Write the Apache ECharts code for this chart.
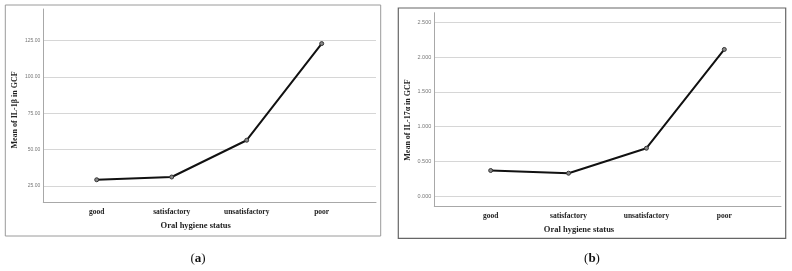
<!DOCTYPE html>
<html><head><meta charset="utf-8">
<script src="https://cdn.jsdelivr.net/npm/echarts@6/dist/echarts.min.js"></script>
<style>html,body{margin:0;padding:0;background:#fff}#c{width:792px;height:271px}</style>
</head><body><div id="c"></div>
<script>
const categories = ['good', 'satisfactory', 'unsatisfactory', 'poor'];
const il1bValues = [29.3, 31.2, 56.5, 123.0];
const il17Values = [0.371, 0.332, 0.691, 2.11];
const ticksA = [25, 50, 75, 100, 125];
const ticksB = [0, 0.5, 1.0, 1.5, 2.0, 2.5];
const xTitle = 'Oral hygiene status';
const yTitleA = 'Mean of IL-1β in GCF';
const yTitleB = 'Mean of IL-17α in GCF';
const captionLetters = ['a', 'b'];

const serif = '"Liberation Serif", "DejaVu Serif", serif';
const sans = '"Liberation Sans", Arial, sans-serif';
const catIdx = categories.map((_, i) => i);

function xAxisCfg(gi, min, max) {
  return {
    type: 'value', gridIndex: gi, min: min, max: max,
    axisLine: { show: true, onZero: false, lineStyle: { color: '#a8a8a8', width: 1 } },
    axisTick: { show: false, customValues: catIdx },
    splitLine: { show: false },
    axisLabel: {
      customValues: catIdx, margin: 6,
      formatter: v => categories[Math.round(v)] || '',
      fontFamily: serif, fontWeight: 'bold', fontSize: 7.5, color: '#222'
    }
  };
}
function yAxisCfg(gi, min, max, ticks, dec, fs) {
  return {
    type: 'value', gridIndex: gi, min: min, max: max,
    axisLine: { show: true, onZero: false, lineStyle: { color: '#a8a8a8', width: 1 } },
    axisTick: { show: false, customValues: ticks },
    splitLine: { show: true, lineStyle: { color: '#d6d6d6', width: 1 } },
    axisLabel: {
      customValues: ticks, margin: 3,
      formatter: v => Number(v).toFixed(dec),
      fontFamily: sans, fontSize: fs, color: '#777'
    }
  };
}
function seriesCfg(idx, vals) {
  return {
    type: 'line', xAxisIndex: idx, yAxisIndex: idx,
    data: vals.map((v, i) => [i, v]),
    symbol: 'circle', symbolSize: 4,
    itemStyle: { color: '#888', borderColor: '#333', borderWidth: 1 },
    lineStyle: { color: '#111', width: 2 },
    animation: false, silent: true
  };
}
function caption(x, letter) {
  return {
    type: 'text', x: x, y: 259,
    style: {
      text: '{p|(}{l|' + letter + '}{p|)}', textAlign: 'center', textVerticalAlign: 'middle',
      rich: {
        p: { font: '13px ' + serif, fill: '#111' },
        l: { font: 'bold 13px ' + serif, fill: '#111' }
      }
    }
  };
}

const chart = echarts.init(document.getElementById('c'), null, { renderer: 'canvas' });
chart.setOption({
  animation: false,
  grid: [
    { left: 43.3, top: 9, width: 332.7, height: 193, containLabel: false },
    { left: 434.3, top: 12.7, width: 346.7, height: 193.3, containLabel: false }
  ],
  xAxis: [xAxisCfg(0, -0.712, 3.724), xAxisCfg(1, -0.724, 3.728)],
  yAxis: [
    yAxisCfg(0, 14, 146.8, ticksA, 2, 5),
    yAxisCfg(1, -0.139, 2.638, ticksB, 3, 5.5)
  ],
  series: [seriesCfg(0, il1bValues), seriesCfg(1, il17Values)],
  graphic: [
    { type: 'rect', shape: { x: 5.3, y: 5, width: 375.4, height: 231 }, style: { fill: 'none', stroke: '#9a9a9a', lineWidth: 1 }, silent: true },
    { type: 'rect', shape: { x: 398.3, y: 8, width: 387.4, height: 230.3 }, style: { fill: 'none', stroke: '#666', lineWidth: 1.2 }, silent: true },
    { type: 'text', x: 195.7, y: 226, style: { text: xTitle, font: 'bold 8.5px ' + serif, fill: '#222', textAlign: 'center', textVerticalAlign: 'middle' } },
    { type: 'text', x: 579, y: 229.3, style: { text: xTitle, font: 'bold 8.5px ' + serif, fill: '#222', textAlign: 'center', textVerticalAlign: 'middle' } },
    { type: 'text', x: 15, y: 110, rotation: Math.PI / 2, style: { text: yTitleA, font: 'bold 8px ' + serif, fill: '#222', textAlign: 'center', textVerticalAlign: 'middle' } },
    { type: 'text', x: 408.3, y: 120, rotation: Math.PI / 2, style: { text: yTitleB, font: 'bold 8px ' + serif, fill: '#222', textAlign: 'center', textVerticalAlign: 'middle' } },
    caption(198, captionLetters[0]),
    caption(592, captionLetters[1])
  ]
});
</script></body></html>
